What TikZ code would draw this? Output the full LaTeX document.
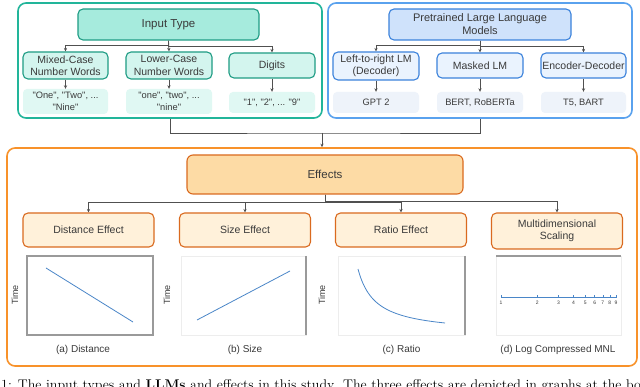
\documentclass[tikz,border=0pt]{standalone}
\usepackage{fontspec}
\newfontfamily\lsans{Liberation Sans}
\usetikzlibrary{arrows.meta}
\definecolor{txtc}{HTML}{3A3A3A}
\definecolor{lineC}{HTML}{505050}
\definecolor{tealO}{HTML}{22B59A}
\definecolor{tealD}{HTML}{1E9C84}
\definecolor{tealM}{HTML}{A6EBDD}
\definecolor{tealL}{HTML}{D3F5EE}
\definecolor{tealX}{HTML}{E0F8F3}
\definecolor{blueO}{HTML}{5AA2EE}
\definecolor{blueD}{HTML}{3B82DB}
\definecolor{blueM}{HTML}{CFE2FB}
\definecolor{blueL}{HTML}{EAF3FE}
\definecolor{blueX}{HTML}{EEF3FA}
\definecolor{orO}{HTML}{F8922A}
\definecolor{orD}{HTML}{DA6A1F}
\definecolor{orM}{HTML}{FDDBA5}
\definecolor{orL}{HTML}{FFF1DA}
\definecolor{plotB}{HTML}{4A86C8}
\definecolor{frameG}{HTML}{9A9A9A}
\definecolor{frameL}{HTML}{EDEDED}
\tikzset{
  txt/.style={text=txtc, align=center, inner sep=0pt, font=\lsans\fontsize{10.5}{12.5}\selectfont},
  frame/.style={rounded corners=8pt, line width=1.6pt, inner sep=0pt},
  gtitle/.style={txt, draw=tealD, fill=tealM, line width=1.1pt, rounded corners=5pt, font=\lsans\fontsize{11.5}{13.5}\selectfont},
  gchild/.style={txt, draw=tealD, fill=tealL, line width=1.1pt, rounded corners=5pt},
  gex/.style={txt, fill=tealX, rounded corners=4pt, font=\lsans\fontsize{9.3}{11.5}\selectfont},
  btitle/.style={txt, draw=blueD, fill=blueM, line width=1.1pt, rounded corners=5pt, font=\lsans\fontsize{11}{13}\selectfont},
  bchild/.style={txt, draw=blueD, fill=blueL, line width=1.1pt, rounded corners=5pt},
  bex/.style={txt, fill=blueX, rounded corners=4pt, font=\lsans\fontsize{9.3}{11.5}\selectfont},
  otitle/.style={txt, draw=orD, fill=orM, line width=1.1pt, rounded corners=6pt, font=\lsans\fontsize{11.5}{13.5}\selectfont},
  ochild/.style={txt, draw=orD, fill=orL, line width=1.1pt, rounded corners=5pt},
  arr/.style={draw=lineC, line width=0.8pt, -{Stealth[length=3.5pt,width=3.2pt]}},
  conn/.style={draw=lineC, line width=0.8pt},
  sub/.style={txt, font=\lsans\fontsize{10}{12}\selectfont},
  timel/.style={txt, rotate=90, font=\lsans\fontsize{9}{11}\selectfont},
  tick/.style={txt, font=\lsans\fontsize{5}{6}\selectfont},
}
\begin{document}
\begin{tikzpicture}[x=1pt,y=-1pt]
\useasboundingbox (0,0) rectangle (640,387);
\clip (0,0) rectangle (640,387);
\fill[white] (0,0) rectangle (640,387);

% outer frames
\node[frame, draw=tealO, minimum width=304pt, minimum height=115pt] (green) at (170,60.5) {};
\node[frame, draw=blueO, minimum width=304pt, minimum height=115pt] (blue) at (480,60.5) {};
\node[frame, draw=orO, minimum width=630pt, minimum height=218pt] (orange) at (322,257) {};

% input type
\node[gtitle, minimum width=181pt, minimum height=31pt] (it) at (168.5,24.5) {Input Type};
\node[gchild, minimum width=85pt, minimum height=27pt] (mixed) at (65.5,65.5) {Mixed-Case\\Number Words};
\node[gchild, minimum width=86pt, minimum height=27pt] (lower) at (169,65.5) {Lower-Case\\Number Words};
\node[gchild, minimum width=86pt, minimum height=25pt] (digits) at (272,65.5) {Digits};
\node[gex, minimum width=85pt, minimum height=25pt] (ex1) at (65.5,101.5) {"One", "Two", ...\\"Nine"};
\node[gex, minimum width=86pt, minimum height=25pt] (ex2) at (169,101.5) {"one", "two", ...\\"nine"};
\node[gex, minimum width=86pt, minimum height=21pt] (ex3) at (272,102.5) {"1", "2", ... "9"};
\draw[arr] (it.south) |- ([yshift=6pt]mixed.north) -- (mixed.north);
\draw[arr] (it.south) -- (lower.north);
\draw[arr] (it.south) |- ([yshift=6pt]digits.north) -- (digits.north);
\draw[arr] (mixed.south) -- (ex1.north);
\draw[arr] (lower.south) -- (ex2.north);
\draw[arr] (digits.south) -- (ex3.north);

% LLMs
\node[btitle, minimum width=182pt, minimum height=31pt] (llm) at (480,24.5) {Pretrained Large Language\\Models};
\node[bchild, minimum width=86pt, minimum height=28pt] (ltr) at (376,66) {Left-to-right LM\\(Decoder)};
\node[bchild, minimum width=86pt, minimum height=25pt] (mlm) at (480,65.5) {Masked LM};
\node[bchild, minimum width=85pt, minimum height=25pt] (ed) at (583.5,65.5) {Encoder-Decoder};
\node[bex, minimum width=86pt, minimum height=21pt] (bx1) at (376,102.5) {GPT 2};
\node[bex, minimum width=86pt, minimum height=21pt] (bx2) at (480,102.5) {BERT, RoBERTa};
\node[bex, minimum width=85pt, minimum height=21pt] (bx3) at (583.5,102.5) {T5, BART};
\draw[arr] (llm.south) |- ([yshift=6pt]ltr.north) -- (ltr.north);
\draw[arr] (llm.south) -- (mlm.north);
\draw[arr] (llm.south) |- ([yshift=6pt]ed.north) -- (ed.north);
\draw[arr] (ltr.south) -- (bx1.north);
\draw[arr] (mlm.south) -- (bx2.north);
\draw[arr] (ed.south) -- (bx3.north);

% join
\coordinate (j) at (322,133);
\draw[conn] (green.south) |- (j) -| (blue.south);
\draw[arr] (j) -- (orange.north);

% effects
\node[otitle, minimum width=276pt, minimum height=39pt] (eff) at (325,174.5) {Effects};
\node[ochild, minimum width=131pt, minimum height=34pt] (dist) at (88.5,230) {Distance Effect};
\node[ochild, minimum width=131pt, minimum height=34pt] (size) at (245,230) {Size Effect};
\node[ochild, minimum width=131pt, minimum height=34pt] (ratio) at (401,230) {Ratio Effect};
\node[ochild, minimum width=131pt, minimum height=36pt] (mds) at (557,231) {Multidimensional\\Scaling};
\draw[arr] (eff.south) |- ([yshift=10pt]dist.north) -- (dist.north);
\draw[arr] (eff.south) |- ([yshift=10pt]size.north) -- (size.north);
\draw[arr] (eff.south) |- ([yshift=10pt]ratio.north) -- (ratio.north);
\draw[arr] (eff.south) |- ([yshift=11pt]mds.north) -- (mds.north);

% plot (a)
\draw[frameG, line width=1.2pt] (27,256) rectangle (153,335);
\draw[plotB, line width=0.8pt] (46,268) -- (133,322);
\node[timel] (ta) at (15,295) {Time};
\node[sub] (la) at (83,350) {(a) Distance};

% plot (b)
\draw[frameL, line width=0.6pt] (181,256) rectangle (306,335);
\draw[frameG, line width=1.2pt] (306,256) -- (306,335);
\draw[plotB, line width=0.8pt] (197,320) -- (290,271);
\node[timel] (tb) at (167,295) {Time};
\node[sub] (lb) at (245,350) {(b) Size};

% plot (c)
\draw[frameL, line width=0.6pt] (338,256) rectangle (465,335);
\draw[frameG, line width=1.2pt] (465,256) -- (465,335);
\draw[plotB, line width=0.8pt] plot[domain=1:6, samples=50, smooth] ({358+(\x-1)*17.4},{323-(1/\x-1/6)*1.2*54});
\node[timel] (tc) at (322,295) {Time};
\node[sub] (lc) at (401.5,350) {(c) Ratio};

% plot (d)
\draw[frameL, line width=0.6pt] (496,256) rectangle (621,335);
\draw[frameG, line width=1.2pt] (496,256) -- (621,256);
\draw[plotB, line width=0.7pt] (501,297) -- (616,297);
\foreach \n in {1,...,9}{
  \pgfmathsetmacro\xx{501+115*ln(\n)/ln(9)}
  \draw[plotB, line width=0.6pt] (\xx,295.5) -- (\xx,298.5);
  \node[tick] (n\n) at (\xx,302.5) {\n};
}
\node[sub] (ld) at (558,350) {(d) Log Compressed MNL};

% caption (cut off by the picture's lower edge, as in the reference)
\node[anchor=base west, inner sep=0pt, text=black, font=\fontsize{14}{16}\selectfont] (cap) at (1,389.5) {1: The input types and \textbf{LLMs} and effects in this study. The three effects are depicted in graphs at the bottom of the figure};
\end{tikzpicture}
\end{document}
